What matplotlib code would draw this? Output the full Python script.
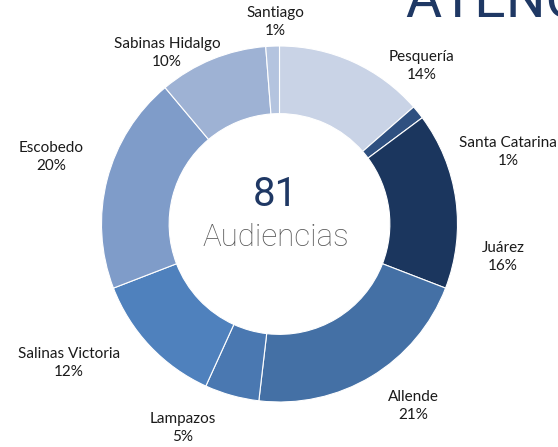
#!/usr/bin/env python3
"""Donut chart: audiencias por municipio."""

import matplotlib
matplotlib.use("Agg")
import matplotlib.pyplot as plt

W, H = 558, 447

municipios = ["Pesquería", "Santa Catarina", "Juárez", "Allende", "Lampazos",
              "Salinas Victoria", "Escobedo", "Sabinas Hidalgo", "Santiago"]
audiencias = [11, 1, 13, 17, 4, 10, 16, 8, 1]
colores = ["#c9d3e6", "#2f5080", "#1b365e", "#4470a5", "#4a78b1",
           "#4f81bd", "#7f9cc9", "#9eb2d4", "#b4c4df"]

# label centres in image pixels (x, y from top)
label_pos = [(422, 66), (508, 152), (503, 257), (413, 406), (183, 428),
             (69, 363), (51, 157), (167, 53), (275, 22)]

TEXT = "#1a1a1a"
NAVY = "#1f3864"
GREY = "#595959"

fig = plt.figure(figsize=(W / 100, H / 100), dpi=100)
ax = fig.add_axes([0, 0, 1, 1])
ax.axis("off")

cx, cy, r = 279.5, H - 224, 178
ax.pie(audiencias, colors=colores, startangle=90, counterclock=False,
       center=(cx, cy), radius=r,
       wedgeprops=dict(width=r * 0.38, edgecolor="white", linewidth=0.8))
ax.set_xlim(0, W)
ax.set_ylim(0, H)
ax.set_aspect("equal")

total = sum(audiencias)
for name, n, (x, y) in zip(municipios, audiencias, label_pos):
    ax.text(x, H - y, f"{name}\n{100 * n / total:.0f}%", ha="center", va="center",
            fontsize=11, family="Lato", color=TEXT, linespacing=1.35)

ax.text(275, H - 195, f"{total}", ha="center", va="center", fontsize=29,
        family="Roboto", weight="normal", color=NAVY)
ax.text(276, H - 238, "Audiencias", ha="center", va="center", fontsize=22.5,
        family="Roboto", weight="light", color=GREY)

# big title cut off at the top edge
ax.text(405, H - 17, "ATENCIÓN", ha="left", va="baseline", fontsize=40,
        family="Roboto", weight="normal", color=NAVY, clip_on=False)

fig.savefig("out.png", dpi=100)
plt.close(fig)
